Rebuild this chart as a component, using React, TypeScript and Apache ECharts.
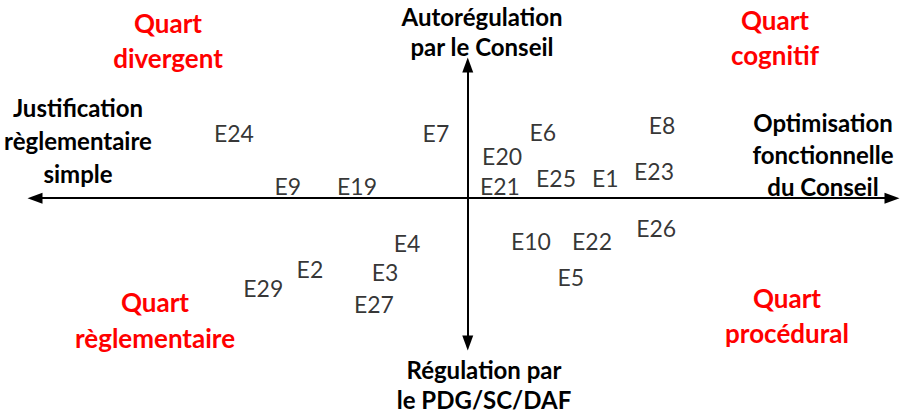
import React, { useEffect, useRef } from "react";
import * as echarts from "echarts";

const itemNames = ["E24", "E7", "E9", "E19", "E20", "E6", "E8", "E21", "E25", "E1", "E23", "E4", "E2", "E3", "E29", "E27", "E10", "E22", "E26", "E5"];
const xValues = [-5.51, -0.75, -4.24, -2.61, 0.81, 1.77, 4.58, 0.76, 2.08, 3.24, 4.39, -1.43, -3.72, -1.95, -4.82, -2.21, 1.49, 2.93, 4.44, 2.43];
const yValues = [2.24, 2.24, 0.41, 0.41, 1.45, 2.28, 2.52, 0.41, 0.69, 0.69, 0.93, -1.55, -2.45, -2.56, -3.11, -3.66, -1.48, -1.48, -1.04, -2.73];

const axisTitles = {
  top: "Autorégulation\npar le Conseil",
  bottom: "Régulation par\nle PDG/SC/DAF",
  left: "Justification\nrèglementaire\nsimple",
  right: "Optimisation\nfonctionnelle\ndu Conseil",
};
const quadrantTitles = {
  topLeft: "Quart\ndivergent",
  topRight: "Quart\ncognitif",
  bottomLeft: "Quart\nrèglementaire",
  bottomRight: "Quart\nprocédural",
};

const FONT = "Lato, 'Open Sans', sans-serif";

export default function App() {
  const ref = useRef<HTMLDivElement>(null);
  useEffect(() => {
    if (!ref.current) return;
    const chart = echarts.init(ref.current, undefined, { renderer: "svg" });
    const boldText = (x: number, y: number, text: string, color: string, lh: number, size: number) => ({
      type: "text",
      x,
      y,
      style: {
        text,
        fill: color,
        font: `bold ${size}px ${FONT}`,
        align: "center",
        verticalAlign: "middle",
        lineHeight: lh,
      },
    });
    const axisCommon = {
      type: "value",
      axisLine: {
        show: true,
        onZero: true,
        symbol: ["triangle", "triangle"],
        symbolSize: [11, 15],
        lineStyle: { color: "#000", width: 2 },
      },
      axisTick: { show: false },
      axisLabel: { show: false },
      splitLine: { show: false },
    };
    chart.setOption({
      animation: false,
      grid: { left: 35, right: 13, top: 65, bottom: 73, containLabel: false },
      xAxis: { ...axisCommon, min: -10.2, max: 10 },
      yAxis: { ...axisCommon, min: -5, max: 4.6 },
      series: [
        {
          type: "scatter",
          symbolSize: 1,
          itemStyle: { color: "transparent" },
          data: itemNames.map((n, i) => ({ name: n, value: [xValues[i], yValues[i]] })),
          label: {
            show: true,
            position: "inside",
            formatter: (p: any) => p.name,
            fontSize: 23,
            fontFamily: FONT,
            color: "#000",
          },
        },
      ],
      graphic: [
        boldText(482, 31, axisTitles.top, "#000", 30, 24),
        boldText(484, 384, axisTitles.bottom, "#000", 30, 24),
        boldText(78, 140, axisTitles.left, "#000", 33, 24),
        boldText(823, 154, axisTitles.right, "#000", 32, 24),
        boldText(168, 40, quadrantTitles.topLeft, "#ff0000", 35, 26),
        boldText(775, 37, quadrantTitles.topRight, "#ff0000", 35, 26),
        boldText(155, 320, quadrantTitles.bottomLeft, "#ff0000", 36, 26),
        boldText(787, 315, quadrantTitles.bottomRight, "#ff0000", 35, 26),
      ],
    });
    return () => chart.dispose();
  }, []);
  return <div ref={ref} style={{ position: "absolute", left: 0, top: 0, width: 905, height: 416, background: "#fff" }} />;
}
